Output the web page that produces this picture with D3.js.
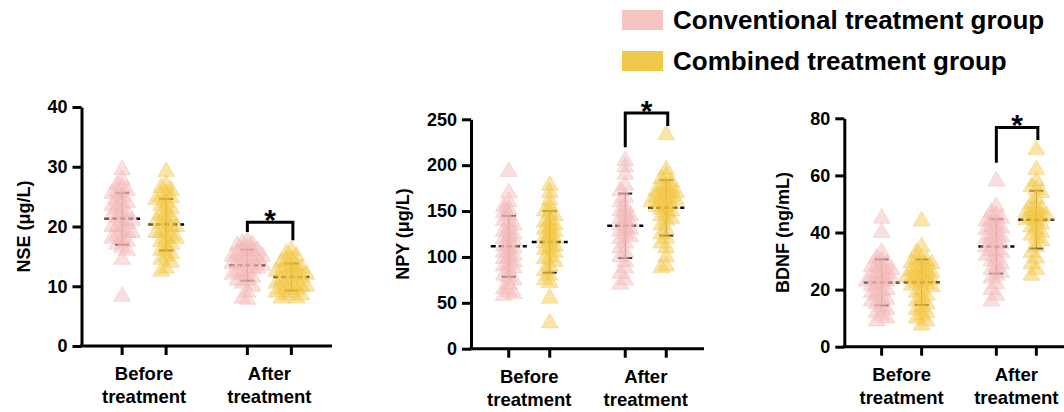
<!DOCTYPE html>
<html>
<head>
<meta charset="utf-8">
<script src="https://cdn.jsdelivr.net/npm/d3@7"></script>
<style>
body{margin:0;background:#fff;}
svg{display:block;font-family:"Liberation Sans",Arial,sans-serif;font-weight:bold;}
</style>
</head>
<body>
<div class="chart"></div>
<script>
const timepoints = ['Before treatment', 'After treatment'];
const groups = ['Conventional treatment group', 'Combined treatment group'];

// NSE (ug/L)
const nseConvBefore = [29.5,27.8,27,26.5,26,25.8,25.5,25,24.5,24,23.8,23.5,23,22.5,22,22,21.5,21,21,20.5,20,20,19.5,19,19,18.5,18,18,17.5,17,16.5,16,14.5,8.3];
const nseCombBefore = [29.2,27,26.5,26,25.5,25,24.8,24.5,24,23.5,23,22.5,22,21.5,21,21,20.5,20,20,19.5,19,19,18.5,18,18,17.5,17,16.5,16,15.5,15,14.5,14,13,12.5];
const nseConvAfter = [17.6,17.2,17,16.8,16.5,16,16,15.8,15.5,15.2,15,15,14.8,14.5,14.5,14,14,13.8,13.5,13.5,13,13,12.5,12.5,12,12,11.5,11,11,10.5,10,9,8,7.8];
const nseCombAfter = [16,15.5,15,14.5,14.2,14,13.5,13.2,13,13,12.5,12.5,12.2,12,12,11.5,11.5,11,11,10.5,10.5,10,10,10,9.5,9.5,9,9,8.5,8.5,8,8];

// NPY (ug/L)
const npyConvBefore = [193,170,160,155,152,148,145,140,138,135,130,128,125,122,120,118,115,112,110,108,105,102,100,98,95,92,90,88,85,80,78,75,70,65,62,60,58];
const npyCombBefore = [178,170,162,155,150,148,145,140,138,135,132,130,128,125,122,120,118,115,112,110,108,105,100,98,95,90,85,80,75,72,55,28];
const npyConvAfter = [205,198,190,178,172,165,160,155,150,148,145,142,140,138,135,132,130,128,125,122,120,115,110,105,100,95,88,82,75,70];
const npyCombAfter = [233,195,188,185,182,178,176,175,172,170,170,168,166,165,163,162,160,160,158,155,155,152,150,148,145,142,140,135,130,125,120,115,110,100,90,88];

// BDNF (ng/mL)
const bdnfConvBefore = [45,40,33,31,30,29,28.5,28,27.5,27,26,25.5,25,24.5,24,23.5,23,23,22,21.5,21,20,19.5,19,18,17,16.5,16,15,14,13,12,11,10,9];
const bdnfCombBefore = [44,35,33,31,30.5,30,29.5,29,28,27.5,27,26.5,26,25.5,25,24.5,24.5,24,23.5,23,22.5,22,21.5,21,20,19,18,17,16,15,14,13,12,11,10,9,7.5];
const bdnfConvAfter = [58,49,47,46,45,44.5,44,43,42,41.5,41,40,39,38.5,38,37,36.5,36,35,34,33.5,33,32,31,30,29,28,27,26,25,24,22,20,18,16];
const bdnfCombAfter = [69,62,58,56,55,54,52,50,49,48,47.5,47,46.5,46,45.5,45,44.5,44,43,42,41,40,39,38,37,35,33,31,29,27,25];

const yTicks = [[0,10,20,30,40],[0,50,100,150,200,250],[0,20,40,60,80]];
const yLabels = ['NSE (μg/L)', 'NPY (μg/L)', 'BDNF (ng/mL)'];
// significance bracket in data units: [top, left leg end, right leg end]
const brackets = [[20.7,19.1,17.7],[257,219.5,242.7],[76.8,64.4,72.4]];

const colors = ['#f4b8b8', '#f3c53a'];
const strokes = ['#eeb0b0', '#ecc048'];
const legendColors = ['#f7c4c4', '#f2c84a'];

const panels = [
    {values:[[nseConvBefore,nseCombBefore],[nseConvAfter,nseCombAfter]], left:81.5, right:332, top:107, bottom:346, off:22, titleX:-58},
    {values:[[npyConvBefore,npyCombBefore],[npyConvAfter,npyCombAfter]], left:471, right:704, top:119.3, bottom:348.7, off:20.5, titleX:-68},
    {values:[[bdnfConvBefore,bdnfCombBefore],[bdnfConvAfter,bdnfCombAfter]], left:844.3, right:1073.7, top:118.3, bottom:346.7, off:20, titleX:-61}
];

const svg = d3.select('.chart')
    .append('svg')
    .attr('width', 1064)
    .attr('height', 412);

const tri = d3.symbol(d3.symbolTriangle, 125)();

function swarm(vals, cx, y){
    const placed = [];
    const cands = [0,-5,5,-10,10,-13,13,-15,15];
    return vals.slice().sort((a,b)=>b-a).map(v=>{
        const py = y(v);
        let dx = 0;
        for (const c of cands){
            if (!placed.some(p=>Math.abs(p.y-py)<6 && Math.abs(p.dx-c)<5)){ dx=c; break; }
        }
        placed.push({y:py, dx:dx});
        return {v:v, x:cx+dx, y:py};
    });
}

panels.forEach((p,i)=>{
    const ticks = yTicks[i];
    const y = d3.scaleLinear()
        .domain([0, d3.max(ticks)])
        .range([p.bottom, p.top]);
    const x0 = d3.scalePoint()
        .domain(timepoints)
        .range([p.left, p.right])
        .padding(0.5);
    const x1 = d3.scalePoint()
        .domain(groups)
        .range([-p.off, p.off]);

    const g = svg.append('g');

    // mean + SD behind the points
    timepoints.forEach((t,ti)=>{
        groups.forEach((gr,gi)=>{
            const vals = p.values[ti][gi];
            const cx = x0(t) + x1(gr);
            const m = d3.mean(vals), sd = d3.deviation(vals);
            g.append('line')
                .attr('x1', cx).attr('x2', cx)
                .attr('y1', y(m-sd)).attr('y2', y(m+sd))
                .attr('stroke', '#555').attr('stroke-width', 1);
            [m-sd, m+sd].forEach(v=>{
                g.append('line')
                    .attr('x1', cx-7).attr('x2', cx+7)
                    .attr('y1', y(v)).attr('y2', y(v))
                    .attr('stroke', '#222').attr('stroke-width', 2);
            });
            g.append('line')
                .attr('x1', cx-18).attr('x2', cx+18)
                .attr('y1', y(m)).attr('y2', y(m))
                .attr('stroke', '#000').attr('stroke-width', 2.5)
                .attr('stroke-dasharray', '5,3');
        });
    });

    timepoints.forEach((t,ti)=>{
        groups.forEach((gr,gi)=>{
            const pts = swarm(p.values[ti][gi], x0(t)+x1(gr), y);
            g.selectAll(null)
                .data(pts)
                .enter()
                .append('path')
                .attr('d', tri)
                .attr('transform', d=>`translate(${d.x},${d.y})`)
                .attr('fill', colors[gi])
                .attr('fill-opacity', 0.45)
                .attr('stroke', strokes[gi])
                .attr('stroke-opacity', 0.5)
                .attr('stroke-width', 0.7);
        });
    });

    // y axis
    const yAxis = d3.axisLeft(y)
        .tickValues(ticks)
        .tickSize(9)
        .tickSizeOuter(0)
        .tickPadding(5);
    const ya = g.append('g')
        .attr('transform', `translate(${p.left},0)`)
        .call(yAxis);
    ya.select('.domain').attr('stroke', '#000').attr('stroke-width', 3);
    ya.selectAll('.tick line').attr('stroke', '#000').attr('stroke-width', 3);
    ya.selectAll('.tick text')
        .attr('font-size', 18)
        .attr('font-family', '"Liberation Sans",Arial,sans-serif')
        .attr('font-weight', 'bold')
        .attr('fill', '#000');

    // x axis
    g.append('line')
        .attr('x1', p.left-1.5).attr('x2', p.right)
        .attr('y1', y(0)).attr('y2', y(0))
        .attr('stroke', '#000').attr('stroke-width', 3);
    const xt = [];
    timepoints.forEach(t=>groups.forEach(gr=>xt.push(x0(t)+x1(gr))));
    g.selectAll(null)
        .data(xt)
        .enter()
        .append('line')
        .attr('x1', d=>d).attr('x2', d=>d)
        .attr('y1', y(0)).attr('y2', y(0)+9)
        .attr('stroke', '#000').attr('stroke-width', 3);

    timepoints.forEach(t=>{
        const words = t.split(' ');
        const tx = g.append('text')
            .attr('x', x0(t))
            .attr('y', y(0)+34)
            .attr('text-anchor', 'middle')
            .attr('font-size', 18.5);
        words.forEach((w,wi)=>{
            tx.append('tspan')
                .attr('x', x0(t))
                .attr('dy', wi==0 ? 0 : 23)
                .text(w);
        });
    });

    g.append('text')
        .attr('transform', `translate(${p.left+p.titleX+6},${(p.top+p.bottom)/2}) rotate(-90)`)
        .attr('text-anchor', 'middle')
        .attr('font-size', 18)
        .text(yLabels[i]);

    // significance bracket
    const b = brackets[i];
    const bl = x0(timepoints[1]) + x1(groups[0]);
    const br = x0(timepoints[1]) + x1(groups[1]) + 1.5;
    g.append('path')
        .attr('d', `M${bl},${y(b[1])}V${y(b[0])}H${br}V${y(b[2])}`)
        .attr('fill', 'none')
        .attr('stroke', '#000')
        .attr('stroke-width', 3);
    g.append('text')
        .attr('x', (bl+br)/2)
        .attr('y', y(b[0])+8)
        .attr('text-anchor', 'middle')
        .attr('font-size', 30)
        .text('*');
});

// legend
const legend = svg.append('g');
groups.forEach((gr,gi)=>{
    legend.append('rect')
        .attr('x', 622).attr('y', 10 + gi*41)
        .attr('width', 41).attr('height', 20)
        .attr('fill', legendColors[gi]);
    legend.append('text')
        .attr('x', 673).attr('y', 28.5 + gi*41.5)
        .attr('font-size', 26)
        .text(gr);
});
</script>
</body>
</html>
